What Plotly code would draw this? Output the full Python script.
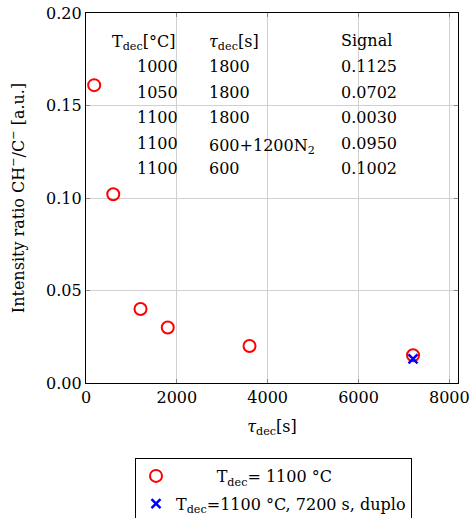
import plotly.graph_objects as go

# Data
tau_dec = [180, 600, 1200, 1800, 3600, 7200]
ratio = [0.161, 0.102, 0.040, 0.030, 0.020, 0.015]
tau_duplo = [7200]
ratio_duplo = [0.013]

table_T = ["1000", "1050", "1100", "1100", "1100"]
table_tau = ["1800", "1800", "1800", "600+1200N<sub>2</sub>", "600"]
table_signal = ["0.1125", "0.0702", "0.0030", "0.0950", "0.1002"]

xticks = [0, 2000, 4000, 6000, 8000]
yticks = [0.0, 0.05, 0.10, 0.15, 0.20]

FONT = "DejaVu Serif"
FS = 16

W, H = 470, 518
L, R, T, B = 86, 12, 13, 135
pw, ph = W - L - R, H - T - B

def px_x(px):
    return (px - L) / pw

def px_y(py):
    return (H - B - py) / ph

fig = go.Figure()
fig.add_trace(go.Scatter(
    x=tau_dec, y=ratio, mode="markers",
    name="\u00a0" * 8 + "T<sub>dec</sub>= 1100 °C",
    legendgroup="a",
    marker=dict(symbol="circle-open", size=12, color="red", line=dict(width=2, color="red")),
))
fig.add_trace(go.Scatter(
    x=tau_duplo, y=ratio_duplo, mode="markers",
    name="T<sub>dec</sub>=1100 °C, 7200 s, duplo",
    legendgroup="b",
    marker=dict(symbol="x-thin-open", size=9, color="blue", line=dict(width=2.5, color="blue")),
))

annotations = []
row_y = [67, 92, 117, 143, 168]
header_y = 40
col1_left, col1_right, col2_left, col3_left = 110, 180, 207, 339

def ann(text, px, py, xanchor):
    annotations.append(dict(
        text=text, x=px_x(px), y=px_y(py), xref="paper", yref="paper",
        xanchor=xanchor, yanchor="middle", showarrow=False,
        font=dict(family=FONT, size=FS, color="black"),
    ))

ann("T<sub>dec</sub>[°C]", col1_left, header_y + 3, "left")
ann("<i>τ</i><sub>dec</sub>[s]", col2_left, header_y + 3, "left")
ann("Signal", col3_left, header_y, "left")
for i in range(len(table_T)):
    ann(table_T[i], col1_right, row_y[i], "right")
    ann(table_tau[i], col2_left, row_y[i] + (3 if "sub" in table_tau[i] else 0), "left")
    ann(table_signal[i], col3_left, row_y[i], "left")

axis_common = dict(
    showline=True, linecolor="black", linewidth=1.2, mirror="allticks",
    ticks="inside", ticklen=4, tickcolor="#888888", tickwidth=1,
    showgrid=True, gridcolor="#d0d0d0", gridwidth=1, zeroline=False,
    tickfont=dict(family=FONT, size=FS, color="black"),
    automargin=False,
)

fig.update_layout(
    width=W, height=H,
    margin=dict(l=L, r=R, t=T, b=B, pad=0, autoexpand=False),
    paper_bgcolor="white", plot_bgcolor="white",
    font=dict(family=FONT, size=FS, color="black"),
    xaxis=dict(range=[0, 8190], tickvals=xticks, tickformat="d",
               title=dict(text="<i>τ</i><sub>dec</sub>[s]", font=dict(family=FONT, size=FS), standoff=14),
               **axis_common),
    yaxis=dict(range=[0, 0.2], tickvals=yticks, tickformat=".2f",
               title=dict(text="Intensity ratio CH<sup>−</sup>/C<sup>−</sup> [a.u.]", font=dict(family=FONT, size=FS), standoff=17),
               **axis_common),
    legend=dict(x=px_x(135), y=px_y(458), xanchor="left", yanchor="top",
                bordercolor="black", borderwidth=1, bgcolor="white",
                font=dict(family=FONT, size=FS, color="black"),
                itemwidth=30, tracegroupgap=4),
    annotations=annotations,
    showlegend=True,
)

fig.write_html("out.html")
